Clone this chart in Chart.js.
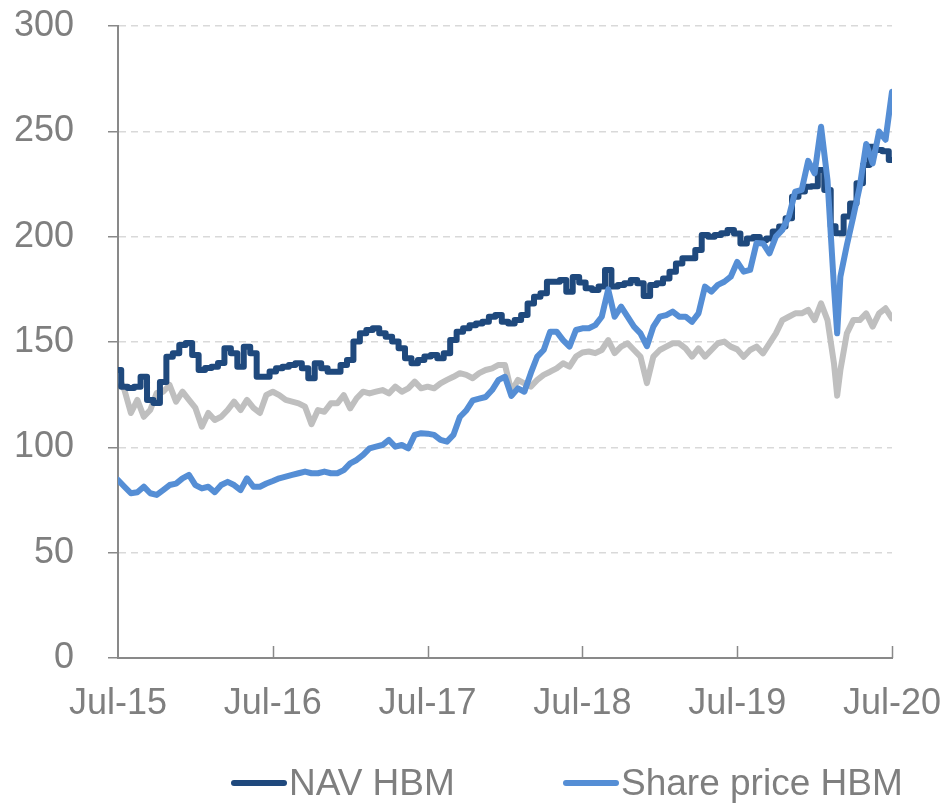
<!DOCTYPE html>
<html>
<head>
<meta charset="utf-8">
<title>HBM NAV vs share price</title>
<script src="https://cdn.jsdelivr.net/npm/chart.js@4.4.1/dist/chart.umd.min.js"></script>
<style>
  html, body { margin: 0; padding: 0; background: #fff; }
  #wrap { width: 946px; height: 805px; }
</style>
</head>
<body>
<div id="wrap"><canvas id="chart" width="946" height="805"></canvas></div>
<script>
// months after Jul-15
const months = [
  0, 0.5, 1, 1.5, 2, 2.5, 3, 3.5, 4, 4.5, 5, 5.5, 6, 6.5, 7, 7.5, 8, 8.5, 9, 9.5,
  10, 10.5, 11, 11.5, 12, 12.5, 13, 13.5, 14, 14.5, 15, 15.5, 16, 16.5, 17, 17.5, 18, 18.5, 19, 19.5,
  20, 20.5, 21, 21.5, 22, 22.5, 23, 23.5, 24, 24.5, 25, 25.5, 26, 26.5, 27, 27.5, 28, 28.5, 29, 29.5,
  30, 30.5, 31, 31.5, 32, 32.5, 33, 33.5, 34, 34.5, 35, 35.5, 36, 36.5, 37, 37.5, 38, 38.5, 39, 39.5,
  40, 40.5, 41, 41.5, 42, 42.5, 43, 43.5, 44, 44.5, 45, 45.5, 46, 46.5, 47, 47.5, 48, 48.5, 49, 49.5,
  50, 50.5, 51, 51.5, 52, 52.5, 53, 53.5, 54, 54.5, 55, 55.5, 55.75, 56, 56.5, 57, 57.5, 58, 58.5, 59, 59.5,
  60
];

const navHbm = [
  136.7, 128.8, 128.2, 128.8, 133.5, 122.5, 121.0, 131.0, 143.0, 144.7, 148.6, 149.5, 143.8, 136.7, 137.6, 138.3, 140.0, 147.0, 144.7, 138.3,
  147.8, 144.7, 133.5, 133.5, 136.0, 137.5, 138.3, 139.1, 139.9, 137.5, 132.8, 139.9, 137.5, 135.9, 135.9, 139.1, 141.5, 150.2, 154.1, 155.7,
  156.5, 154.1, 152.5, 150.2, 147.0, 142.3, 139.9, 141.5, 143.1, 143.8, 142.3, 144.7, 150.9, 154.9, 156.5, 158.0, 158.8, 159.6, 162.0, 162.8,
  159.6, 158.8, 160.4, 162.8, 168.3, 171.5, 173.1, 178.6, 178.6, 179.4, 173.9, 180.9, 178.3, 175.5, 174.7, 176.3, 184.2, 176.3, 177.1, 177.9,
  179.4, 177.9, 171.8, 177.1, 177.9, 180.2, 183.4, 187.3, 189.7, 189.7, 193.7, 200.8, 200.0, 200.8, 201.6, 203.2, 201.5, 196.7, 199.1, 199.9,
  198.3, 199.1, 202.4, 204.8, 208.8, 219.0, 221.4, 223.7, 223.9, 231.7, 222.2, 205.0, 201.6, 201.6, 209.6, 215.8, 225.3, 234.0, 242.7, 241.1, 240.5,
  236.4
];

const sharePriceHbm = [
  84.5, 81.3, 78.2, 78.7, 81.3, 78.2, 77.4, 79.7, 82.1, 82.8, 85.3, 86.9, 82.1, 80.5, 81.3, 78.7, 82.1, 83.6, 82.1, 79.7,
  85.3, 81.3, 81.3, 82.8, 84.0, 85.3, 86.1, 86.9, 87.7, 88.5, 87.7, 87.7, 88.5, 87.7, 87.7, 89.2, 92.4, 94.0, 96.4, 99.5,
  100.3, 101.1, 103.5, 100.3, 101.1, 99.5, 105.9, 106.7, 106.5, 105.9, 103.5, 102.7, 105.9, 114.4, 117.5, 122.3, 123.1, 123.9, 127.2, 132.0,
  133.5, 124.4, 128.0, 126.4, 135.2, 143.1, 146.2, 154.9, 154.9, 150.9, 147.8, 155.7, 156.5, 156.5, 158.0, 162.0, 175.0, 162.0, 166.8, 162.0,
  157.3, 154.1, 148.0, 157.3, 162.0, 162.8, 164.4, 162.0, 162.0, 159.6, 163.6, 176.3, 173.9, 177.1, 178.6, 181.0, 188.0, 183.4, 184.2, 197.0,
  196.8, 192.1, 200.0, 203.2, 209.5, 221.4, 222.2, 236.0, 230.1, 252.2, 226.9, 176.3, 154.1, 181.0, 196.0, 209.5, 223.7, 244.0, 234.8, 249.9, 246.0,
  268.8
];

// grey benchmark line (not in legend)
const benchmark = [
  134.3, 127.2, 116.3, 122.5, 114.5, 117.7, 125.8, 126.4, 129.6, 121.7, 126.4, 122.5, 118.7, 109.8, 116.3, 113.0, 114.5, 117.7, 121.7, 117.7,
  122.5, 118.7, 116.3, 124.9, 126.4, 124.8, 122.5, 121.7, 120.9, 119.3, 111.0, 117.7, 116.9, 120.9, 120.9, 124.8, 118.5, 123.3, 126.4, 125.6,
  126.4, 127.2, 125.6, 128.8, 126.4, 128.0, 131.2, 128.0, 128.8, 128.0, 130.4, 132.0, 133.5, 135.2, 134.4, 132.8, 135.2, 136.7, 137.5, 139.1,
  139.1, 126.4, 132.0, 130.4, 128.8, 132.0, 134.4, 135.9, 137.5, 139.9, 138.3, 143.1, 145.0, 145.5, 144.7, 146.2, 150.9, 144.7, 147.8, 149.4,
  146.2, 143.1, 130.5, 143.1, 146.2, 147.8, 149.4, 149.4, 147.0, 143.1, 147.0, 143.1, 146.2, 149.4, 150.2, 147.8, 146.5, 143.0, 146.2, 147.8,
  144.6, 149.4, 154.1, 160.4, 162.0, 163.6, 163.6, 165.2, 160.4, 168.4, 160.4, 139.9, 124.5, 136.7, 154.1, 160.4, 160.4, 163.6, 157.3, 163.6, 166.0,
  161.2
];

const tickMonths = [0, 12, 24, 36, 48, 60];
const tickLabels = ['Jul-15', 'Jul-16', 'Jul-17', 'Jul-18', 'Jul-19', 'Jul-20'];

const FONT = '"Liberation Sans", Arial, sans-serif';
const GREY_TEXT = '#7f7f7f';
const AXIS = '#898989';

const toPoints = (vals) => vals.map((v, i) => ({ x: months[i], y: v }));

// inward x ticks + custom legend (line swatch right next to text)
const extras = {
  id: 'extras',
  afterDraw(chart) {
    const { ctx, chartArea, scales } = chart;
    ctx.save();
    ctx.strokeStyle = AXIS;
    ctx.lineWidth = 1.5;
    tickMonths.forEach(m => {
      if (m === 0) return;
      const px = Math.round(scales.x.getPixelForValue(m)) + 0.5;
      ctx.beginPath();
      ctx.moveTo(px, chartArea.bottom - 12);
      ctx.lineTo(px, chartArea.bottom);
      ctx.stroke();
    });

    const items = chart.data.datasets.filter(d => d.inLegend);
    const starts = [231, 563];
    ctx.font = '37px ' + FONT;
    ctx.textBaseline = 'alphabetic';
    items.forEach((d, i) => {
      const x0 = starts[i];
      ctx.strokeStyle = d.borderColor;
      ctx.lineWidth = 6;
      ctx.lineCap = 'round';
      ctx.beginPath();
      ctx.moveTo(x0 + 3, 783);
      ctx.lineTo(x0 + 53, 783);
      ctx.stroke();
      ctx.fillStyle = GREY_TEXT;
      ctx.fillText(d.label, x0 + 58, 795);
    });
    ctx.restore();
  }
};

new Chart(document.getElementById('chart'), {
  type: 'line',
  data: {
    datasets: [
      { label: 'NAV HBM', data: toPoints(navHbm), borderColor: '#1f497d', order: 1, inLegend: true, stepped: 'middle' },
      { label: 'Share price HBM', data: toPoints(sharePriceHbm), borderColor: '#558ed5', order: 0, inLegend: true },
      { label: 'Benchmark', data: toPoints(benchmark), borderColor: '#bfbfbf', order: 2, inLegend: false }
    ].map(d => Object.assign(d, {
      borderWidth: 6, pointRadius: 0, tension: 0, fill: false,
      borderJoinStyle: 'round', borderCapStyle: 'round'
    }))
  },
  options: {
    responsive: false,
    animation: false,
    events: [],
    layout: { padding: { top: 26, right: 54, bottom: 0, left: 0 } },
    plugins: { legend: { display: false }, tooltip: { enabled: false } },
    scales: {
      x: {
        type: 'linear',
        min: 0, max: 60,
        afterBuildTicks: (s) => { s.ticks = tickMonths.map(v => ({ value: v })); },
        afterFit: (s) => { s.height = 147; s.paddingLeft = 0; s.paddingRight = 0; },
        grid: { drawOnChartArea: false, drawTicks: false },
        border: { color: AXIS, width: 2 },
        ticks: {
          autoSkip: false, maxRotation: 0, padding: 24,
          color: GREY_TEXT, font: { family: FONT, size: 36 },
          callback: (v) => tickLabels[tickMonths.indexOf(v)]
        }
      },
      y: {
        min: 0, max: 300,
        afterFit: (s) => { s.width = 118; s.paddingTop = 0; s.paddingBottom = 0; },
        grid: {
          color: (c) => c.tick && c.tick.value === 0 ? 'rgba(0,0,0,0)' : '#d9d9d9',
          lineWidth: 1.5,
          tickLength: 10, tickColor: AXIS, tickWidth: 1.5, tickBorderDash: [1, 0]
        },
        border: { color: AXIS, width: 2, dash: [7, 5] },
        ticks: {
          stepSize: 50, padding: 34,
          color: GREY_TEXT, font: { family: FONT, size: 36 }
        }
      }
    }
  },
  plugins: [extras]
});
</script>
</body>
</html>
